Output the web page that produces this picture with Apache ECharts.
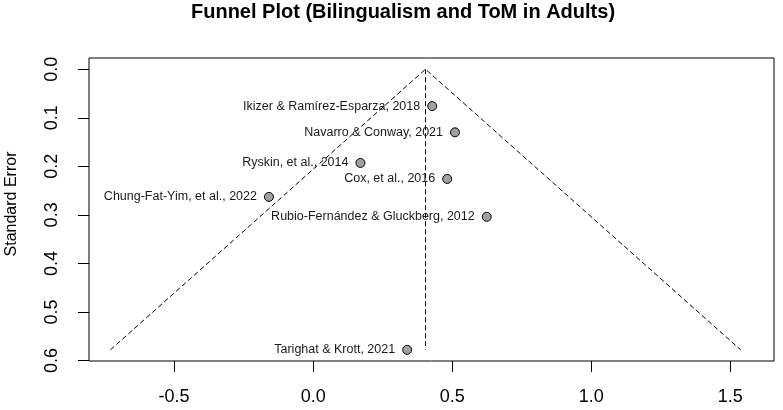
<!DOCTYPE html>
<html>
<head>
<meta charset="utf-8">
<script src="https://cdn.jsdelivr.net/npm/echarts@6/dist/echarts.min.js"></script>
<style>
html,body{margin:0;padding:0;background:#fff;}
#chart{width:783px;height:410px;}
</style>
</head>
<body>
<div id="chart"></div>
<script>
// Data
var studies = [
  "Ikizer & Ramírez-Esparza, 2018",
  "Navarro & Conway, 2021",
  "Ryskin, et al., 2014",
  "Cox, et al., 2016",
  "Chung-Fat-Yim, et al., 2022",
  "Rubio-Fernández & Gluckberg, 2012",
  "Tarighat & Krott, 2021"
];
var effects = [0.428, 0.510, 0.170, 0.482, -0.159, 0.624, 0.338];
var standardErrors = [0.076, 0.130, 0.193, 0.226, 0.263, 0.304, 0.578];

// funnel outline (pooled estimate and pseudo confidence limits)
var funnelEffect = [-0.729, 0.404, 1.537];
var funnelSE = [0.578, 0.0, 0.578];
var centerEffect = [0.404, 0.404];
var centerSE = [0.0, 0.578];

var xTicks = [-0.5, 0.0, 0.5, 1.0, 1.5];
var yTicks = [0.0, 0.1, 0.2, 0.3, 0.4, 0.5, 0.6];

var titleText = "Funnel Plot (Bilingualism and ToM in Adults)";
var yAxisTitle = "Standard Error";

var font = "Liberation Sans, Arial, sans-serif";

var pts = effects.map(function (e, i) {
  return { value: [e, standardErrors[i]], name: studies[i] };
});
var funnelPts = funnelEffect.map(function (e, i) { return [e, funnelSE[i]]; });
var centerPts = centerEffect.map(function (e, i) { return [e, centerSE[i]]; });

var chart = echarts.init(document.getElementById('chart'), null, { renderer: 'canvas' });
chart.setOption({
  animation: false,
  backgroundColor: '#ffffff',
  graphic: [{
    type: 'text',
    left: 431 - 240,
    top: 2,
    style: {
      text: titleText,
      font: 'bold 20px ' + font,
      fill: '#000',
      width: 480,
      align: 'center'
    }
  }, {
    type: 'text',
    x: 12,
    y: 204,
    rotation: Math.PI / 2,
    style: {
      text: yAxisTitle,
      font: '16px ' + font,
      fill: '#000',
      align: 'center',
      verticalAlign: 'middle'
    }
  }],
  title: { show: false },
  grid: {
    left: 89, right: 9, top: 58, bottom: 49,
    show: true, borderColor: '#000', borderWidth: 1, backgroundColor: 'transparent'
  },
  xAxis: {
    type: 'value',
    position: 'bottom',
    min: -0.806, max: 1.657,
    axisLine: { show: false, onZero: false },
    splitLine: { show: false },
    axisTick: { show: true, inside: false, length: 11, customValues: xTicks, lineStyle: { color: '#000', width: 1 } },
    axisLabel: {
      customValues: xTicks,
      margin: 27,
      color: '#000',
      fontSize: 18,
      fontFamily: font,
      formatter: function (v) { return v.toFixed(1); }
    }
  },
  yAxis: {
    type: 'value',
    position: 'left',
    inverse: true,
    min: -0.0231, max: 0.601,
    axisLine: { show: false, onZero: false },
    splitLine: { show: false },
    axisTick: { show: true, inside: false, length: 11, customValues: yTicks, lineStyle: { color: '#000', width: 1 } },
    axisLabel: {
      customValues: yTicks,
      rotate: 90,
      margin: 28,
      color: '#000',
      fontSize: 18,
      fontFamily: font,
      formatter: function (v) { return v.toFixed(1); }
    }
  },
  series: [
    {
      type: 'line',
      data: funnelPts,
      symbol: 'none',
      lineStyle: { color: '#000', width: 1, type: [5, 3] },
      silent: true
    },
    {
      type: 'line',
      data: centerPts,
      symbol: 'none',
      lineStyle: { color: '#000', width: 1, type: [5, 3] },
      silent: true
    },
    {
      type: 'scatter',
      data: pts,
      symbol: 'circle',
      symbolSize: 9,
      itemStyle: { color: '#a0a0a0', borderColor: '#000', borderWidth: 1, opacity: 1 },
      label: {
        show: true,
        position: 'left',
        distance: 7,
        formatter: function (p) { return p.name; },
        color: '#1a1a1a',
        fontSize: 12.5,
        fontFamily: font
      },
      labelLayout: { hideOverlap: false },
      z: 5
    }
  ]
});
</script>
</body>
</html>
